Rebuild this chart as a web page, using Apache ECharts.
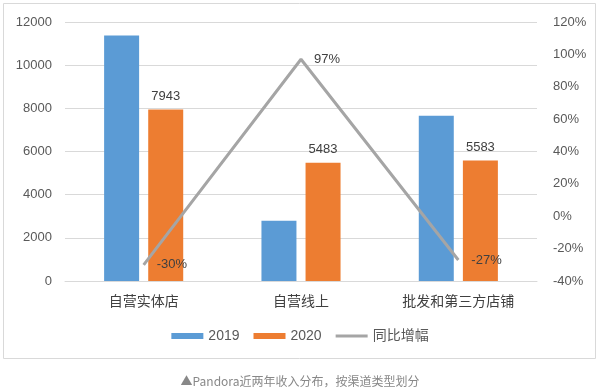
<!DOCTYPE html>
<html><head><meta charset="utf-8">
<script src="https://cdn.jsdelivr.net/npm/echarts@6/dist/echarts.min.js"></script>
<style>html,body{margin:0;padding:0;background:#fff}#c{width:600px;height:389px}</style>
</head><body><div id="c"></div>
<script>
var categories = ['自营实体店', '自营线上', '批发和第三方店铺'];
var values2019 = [11380, 2790, 7660];
var values2020 = [7943, 5483, 5583];
var growth = [-30, 97, -27];
var leftTicks = [0, 12000, 2000];
var rightTicks = [-40, 120, 20];
var caption = '▲Pandora近两年收入分布，按渠道类型划分';

var font = '"Liberation Sans", "Noto Sans CJK SC", sans-serif';
var chart = echarts.init(document.getElementById('c'));
chart.setOption({
  animation: false,
  textStyle: {fontFamily: font},
  graphic: [{
    type: 'rect', shape: {x: 3.5, y: 3.5, width: 592, height: 355},
    style: {fill: 'none', stroke: '#d9d9d9', lineWidth: 1}, z: -1
  }],
  title: {
    text: caption, left: 'center', top: 370,
    textStyle: {fontSize: 12, color: '#888', fontWeight: 'normal', fontFamily: '"Noto Sans CJK SC", sans-serif'}
  },
  grid: {left: 65, right: 63, top: 22, bottom: 108},
  legend: {
    top: 324, left: 'center', itemWidth: 32, itemHeight: 6, itemGap: 14, itemTextGap: 4,
    textStyle: {fontSize: 14, color: '#595959', fontFamily: font},
    data: [
      {name: '2019', icon: 'rect'},
      {name: '2020', icon: 'rect'},
      {name: '同比增幅', icon: 'path://M0,0 L32,0 L32,3 L0,3 Z'}
    ]
  },
  xAxis: {
    type: 'category', data: categories,
    axisLine: {lineStyle: {color: '#d9d9d9', width: 1}},
    axisTick: {show: false},
    axisLabel: {fontSize: 14, color: '#404040', margin: 13, fontFamily: '"Noto Sans CJK SC", sans-serif'}
  },
  yAxis: [{
    type: 'value', min: leftTicks[0], max: leftTicks[1], interval: leftTicks[2],
    axisLabel: {fontSize: 13, color: '#595959', margin: 13, formatter: function (v) { return String(v); }},
    splitLine: {lineStyle: {color: '#d9d9d9', width: 1}},
    axisLine: {show: false}, axisTick: {show: false}
  }, {
    type: 'value', min: rightTicks[0], max: rightTicks[1], interval: rightTicks[2],
    axisLabel: {fontSize: 13, color: '#595959', margin: 16, formatter: '{value}%'},
    splitLine: {show: false}, axisLine: {show: false}, axisTick: {show: false}
  }],
  series: [{
    name: '2019', type: 'bar', data: values2019, barWidth: 35, barGap: '26%',
    itemStyle: {color: '#5b9bd5'}
  }, {
    name: '2020', type: 'bar', data: values2020, barWidth: 35,
    itemStyle: {color: '#ed7d31'},
    label: {show: true, position: 'top', fontSize: 13, color: '#404040', distance: 7}
  }, {
    name: '同比增幅', type: 'line', yAxisIndex: 1, data: growth,
    symbol: 'circle', symbolSize: 0.01, showSymbol: true,
    lineStyle: {color: '#a5a5a5', width: 3},
    itemStyle: {color: '#a5a5a5'},
    label: {show: true, position: 'right', fontSize: 13, color: '#404040', distance: 13, formatter: '{c}%'}
  }]
});
</script></body></html>
